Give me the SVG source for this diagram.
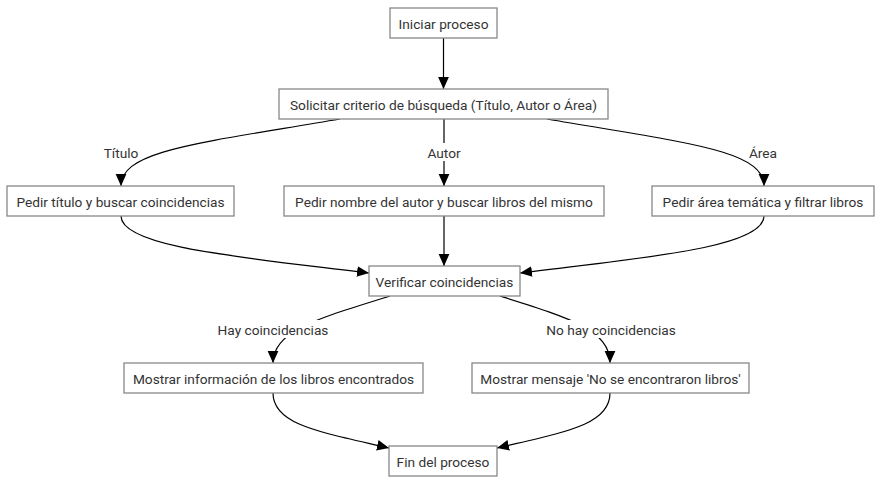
<svg xmlns="http://www.w3.org/2000/svg" width="882" height="484" viewBox="0 0 882 484">
<defs>
<style>
.n rect{fill:#fff;stroke:#888;stroke-width:1.3}
.n text,.lbl text{font-family:Roboto,"Liberation Sans",sans-serif;font-size:13.7px;fill:#333;text-anchor:middle;dominant-baseline:central}
.e path{fill:none;stroke:#000;stroke-width:1.2;marker-end:url(#ah)}
.lbl rect{fill:#fff}
</style>
<marker id="ah" viewBox="0 0 12 12" refX="12" refY="6" markerWidth="12" markerHeight="12" markerUnits="userSpaceOnUse" orient="auto">
<path d="M0,0.6 L12,6 L0,11.4 z" fill="#000"/>
</marker>
</defs>
<rect width="882" height="484" fill="#fff"/>
<g id="connectors" class="e">
<path d="M443.5,38 L443.5,89"/>
<path d="M340,119 C200,143 121,150 121,186"/>
<path d="M444,119 L444,186"/>
<path d="M547,119 C686,143 764,150 764,186"/>
<path d="M121,216 C121,248 250,258 369,273"/>
<path d="M444,216 L444,266"/>
<path d="M764,216 C764,248 640,258 520,273"/>
<path d="M390,296 C320,318 273,330 273,363"/>
<path d="M500,296 C570,318 610,330 610,363"/>
<path d="M273,393 C273,425 320,432 389,448"/>
<path d="M610,393 C610,425 565,432 497,448"/>
</g>
<g id="labels" class="lbl">
<g id="l-titulo"><text x="121" y="153">Título</text></g>
<g id="l-autor"><rect x="425" y="143" width="38" height="18"/><text x="444" y="153">Autor</text></g>
<g id="l-area"><text x="763" y="153">Área</text></g>
<g id="l-hay"><rect x="218" y="320" width="111" height="18"/><text x="273" y="330">Hay coincidencias</text></g>
<g id="l-nohay"><rect x="546" y="320" width="131" height="18"/><text x="611" y="330">No hay coincidencias</text></g>
</g>
<g id="n1" class="n"><rect x="390" y="8" width="107" height="30"/><text x="443.5" y="23.5">Iniciar proceso</text></g>
<g id="n2" class="n"><rect x="279" y="89" width="329" height="30"/><text x="443.5" y="104.5">Solicitar criterio de búsqueda (Título, Autor o Área)</text></g>
<g id="n3" class="n"><rect x="7" y="186" width="227" height="30"/><text x="120.5" y="201.5">Pedir título y buscar coincidencias</text></g>
<g id="n4" class="n"><rect x="284" y="186" width="320" height="30"/><text x="444" y="201.5">Pedir nombre del autor y buscar libros del mismo</text></g>
<g id="n5" class="n"><rect x="652" y="186" width="222" height="30"/><text x="763" y="201.5">Pedir área temática y filtrar libros</text></g>
<g id="n6" class="n"><rect x="369" y="266" width="151" height="30"/><text x="444.5" y="281.5">Verificar coincidencias</text></g>
<g id="n7" class="n"><rect x="124" y="363" width="299" height="30"/><text x="273.5" y="378.5">Mostrar información de los libros encontrados</text></g>
<g id="n8" class="n"><rect x="472" y="363" width="277" height="30"/><text x="610.5" y="378.5">Mostrar mensaje 'No se encontraron libros'</text></g>
<g id="n9" class="n"><rect x="389" y="446" width="108" height="30"/><text x="443" y="461.5">Fin del proceso</text></g>
</svg>
